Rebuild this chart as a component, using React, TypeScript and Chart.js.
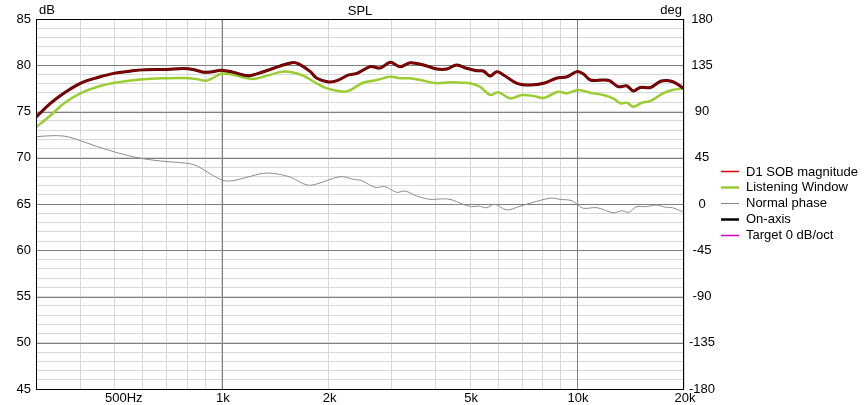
import React, { useEffect, useRef } from "react";
import { Chart, registerables } from "chart.js";

Chart.register(...registerables);

// ---- data ----
const magFreqs = [
  300, 330, 360, 400, 450, 500, 550, 600, 700, 780, 830, 890, 940, 1000, 1080, 1190, 1310, 1460, 1577, 1646,
  1775, 1853, 2000, 2110, 2276, 2402, 2619, 2795, 2979, 3178, 3391, 3697, 4031, 4300, 4583, 4889, 5216, 5446,
  5690, 5944, 6210, 6773, 7400, 8060, 8740, 9375, 9990, 10430, 10900, 11860, 12380, 13060, 13820, 14400, 15060,
  16100, 17270, 18550, 19830, 20000,
];
const onAxisDb = [
  74.4, 75.9, 77.0, 78.05, 78.7, 79.15, 79.35, 79.5, 79.55, 79.65, 79.55, 79.25, 79.3, 79.47, 79.23, 78.87, 79.3,
  79.92, 80.28, 80.14, 79.31, 78.59, 78.19, 78.33, 78.95, 79.13, 79.85, 79.7, 80.32, 79.85, 80.28, 80.03, 79.6,
  79.6, 80.03, 79.67, 79.41, 79.38, 78.84, 79.31, 78.95, 78.05, 77.86, 78.05, 78.59, 78.76, 79.31, 79.05, 78.4,
  78.4, 78.3, 77.68, 77.76, 77.22, 77.6, 77.6, 78.3, 78.24, 77.57, 77.5,
];
const d1SobDb = onAxisDb.slice();

const lwFreqs = [
  300, 330, 360, 400, 450, 500, 600, 700, 780, 850, 900, 940, 1000, 1080, 1220, 1310, 1480, 1577, 1700, 1850,
  1977, 2200, 2300, 2500, 2730, 2980, 3180, 3390, 3620, 4030, 4390, 4700, 5000, 5330, 5690, 6000, 6480, 7000,
  7550, 8060, 8830, 9375, 10060, 10900, 11860, 12640, 13240, 13820, 14400, 15220, 16100, 17440, 18550, 20000,
];
const listeningWindowDb = [
  73.3, 74.6, 75.9, 76.97, 77.7, 78.1, 78.48, 78.6, 78.62, 78.5, 78.33, 78.59, 79.1, 78.95, 78.51, 78.76, 79.31,
  79.24, 78.84, 78.05, 77.5, 77.14, 77.32, 78.11, 78.4, 78.76, 78.59, 78.59, 78.4, 78.05, 78.15, 78.11, 78.05,
  77.68, 76.78, 77.07, 76.42, 76.78, 76.68, 76.46, 77.14, 76.97, 77.32, 77.03, 76.78, 76.42, 75.88, 75.95, 75.52,
  75.95, 76.14, 76.97, 77.32, 77.5,
];

const phaseFreqs = [
  300, 337, 368, 400, 447, 503, 591, 702, 799, 853, 930, 1003, 1058, 1178, 1312, 1431, 1560, 1737, 1853, 2019,
  2178, 2349, 2480, 2700, 2881, 3107, 3280, 3537, 3860, 4118, 4390, 4783, 5048, 5270, 5562, 5870, 6342, 6840,
  7470, 8405, 8970, 9675, 10060, 10430, 11380, 12640, 13380, 13980, 14720, 15670, 16700, 17820, 18550, 19830,
];
const normalPhaseDeg = [
  65.5, 66.5, 65.5, 61.6, 55.8, 50.3, 44.5, 41.2, 39.6, 37, 29.2, 23.3, 22.4, 26, 29.9, 29.2, 26, 18.5, 19.5, 24,
  26.6, 24, 22.7, 16.2, 16.8, 11.4, 12.6, 7.8, 4.5, 4.9, 4.5, -0.3, -2.6, -2, -3.6, -0.3, -5.8, -2.6, 1.3, 5.6,
  4.5, 3.2, -1, -4.2, -3.6, -8.5, -6.5, -8.1, -2.6, -2.6, -1, -3.2, -3.6, -7.5,
];

const targetFreqs: number[] = [];
const targetDb: number[] = [];

const xGridFreqs = [400, 500, 600, 700, 800, 900, 1000, 2000, 3000, 4000, 5000, 6000, 7000, 8000, 9000, 10000, 20000];
const xMajorFreqs = [1000, 10000];
const xLabelFreqs = [500, 1000, 2000, 5000, 10000, 20000];
const xLabelNumbers = ["500", "1k", "2k", "5k", "10k", "20k"];
const xLabelSuffix = ["Hz", "", "", "", "", ""];
const yMajorDb = [50, 55, 60, 65, 70, 75, 80];

const seriesNames = ["D1 SOB magnitude", "Listening Window", "Normal phase", "On-axis", "Target 0 dB/oct"];

const FONT_FAMILY = "'Liberation Sans', Arial, sans-serif";
const FONT = `13px ${FONT_FAMILY}`;
const MINOR = "#d8d8d8";
const MAJOR = "#808080";

function pts(xs: number[], ys: number[]) {
  return xs.map((x, i) => ({ x, y: ys[i] }));
}

const legendStyles = [
  { color: "#e00000", width: 1.5 },
  { color: "#9acd32", width: 2.5 },
  { color: "#888888", width: 1 },
  { color: "#000000", width: 2.5 },
  { color: "#d000d0", width: 1.5 },
];

const majorGridPlugin = {
  id: "majorGrid",
  beforeDatasetsDraw(chart: any) {
    const { ctx, chartArea } = chart;
    const xs = chart.scales.x;
    const ys = chart.scales.y;
    ctx.save();
    ctx.strokeStyle = MAJOR;
    ctx.lineWidth = 1;
    ctx.beginPath();
    yMajorDb.forEach((v) => {
      const py = Math.round(ys.getPixelForValue(v)) + 0.5;
      ctx.moveTo(chartArea.left, py);
      ctx.lineTo(chartArea.right, py);
    });
    xMajorFreqs.forEach((f) => {
      const px = Math.round(xs.getPixelForValue(f)) + 0.5;
      ctx.moveTo(px, chartArea.top);
      ctx.lineTo(px, chartArea.bottom);
    });
    ctx.stroke();
    ctx.restore();
  },
};

const decorPlugin = {
  id: "decor",
  afterDraw(chart: any) {
    const { ctx, chartArea } = chart;
    const xs = chart.scales.x;
    ctx.save();
    // frame
    ctx.strokeStyle = "#000";
    ctx.lineWidth = 1;
    ctx.strokeRect(chartArea.left + 0.5, chartArea.top + 0.5, chartArea.right - chartArea.left - 1, chartArea.bottom - chartArea.top);
    // x labels
    ctx.font = FONT;
    ctx.fillStyle = "#000";
    ctx.textBaseline = "middle";
    ctx.textAlign = "left";
    xLabelFreqs.forEach((f, i) => {
      const px = xs.getPixelForValue(f);
      const w = ctx.measureText(xLabelNumbers[i]).width;
      ctx.fillText(xLabelNumbers[i] + xLabelSuffix[i], px - w / 2 + 1, chartArea.bottom + 9);
    });
    // titles
    ctx.textBaseline = "alphabetic";
    ctx.textAlign = "left";
    ctx.fillText("dB", chartArea.left + 3, 14);
    ctx.textAlign = "center";
    ctx.fillText("SPL", (chartArea.left + chartArea.right) / 2, 15);
    ctx.textAlign = "right";
    ctx.fillText("deg", chartArea.right - 2, 14);
    // legend
    ctx.textAlign = "left";
    ctx.textBaseline = "middle";
    seriesNames.forEach((name, i) => {
      const y = 171 + i * 15.9;
      const st = legendStyles[i];
      ctx.strokeStyle = st.color;
      ctx.lineWidth = st.width;
      ctx.beginPath();
      ctx.moveTo(721, Math.round(y) + 0.5);
      ctx.lineTo(739, Math.round(y) + 0.5);
      ctx.stroke();
      ctx.fillText(name, 746, y + 1);
    });
    ctx.restore();
  },
};

export default function App() {
  const ref = useRef<HTMLCanvasElement | null>(null);
  useEffect(() => {
    document.body.style.margin = "0";
    if (!ref.current) return;
    const chart = new Chart(ref.current, {
      type: "line",
      data: {
        datasets: [
          {
            label: seriesNames[0],
            data: pts(magFreqs, d1SobDb),
            borderColor: "rgba(200,0,0,0.55)",
            borderWidth: 2,
            pointRadius: 0,
            tension: 0.35,
            yAxisID: "y",
            order: 0,
          },
          {
            label: seriesNames[1],
            data: pts(lwFreqs, listeningWindowDb),
            borderColor: "#9acd32",
            borderWidth: 2.5,
            pointRadius: 0,
            tension: 0.35,
            yAxisID: "y",
            order: 2,
          },
          {
            label: seriesNames[2],
            data: pts(phaseFreqs, normalPhaseDeg),
            borderColor: "#8c8c8c",
            borderWidth: 1,
            pointRadius: 0,
            tension: 0.35,
            yAxisID: "y2",
            order: 3,
          },
          {
            label: seriesNames[3],
            data: pts(magFreqs, onAxisDb),
            borderColor: "#3a0000",
            borderWidth: 3,
            pointRadius: 0,
            tension: 0.35,
            yAxisID: "y",
            order: 1,
          },
          {
            label: seriesNames[4],
            data: pts(targetFreqs, targetDb),
            borderColor: "#cc00cc",
            borderWidth: 1,
            pointRadius: 0,
            yAxisID: "y",
            order: 4,
          },
        ],
      },
      options: {
        animation: false,
        responsive: false,
        maintainAspectRatio: false,
        layout: { padding: { top: 19, right: 150, left: 0, bottom: 0 } },
        plugins: { legend: { display: false }, tooltip: { enabled: false } },
        scales: {
          x: {
            type: "logarithmic",
            min: 300,
            max: 20000,
            afterBuildTicks: (s: any) => {
              s.ticks = xGridFreqs.map((v) => ({ value: v }));
            },
            afterFit: (s: any) => {
              s.height = 16;
            },
            ticks: { display: false },
            border: { display: false },
            grid: {
              drawTicks: false,
              color: MINOR,
            },
          },
          y: {
            position: "left",
            min: 45,
            max: 85,
            afterFit: (s: any) => {
              s.width = 36;
            },
            border: { display: false },
            ticks: {
              stepSize: 1,
              autoSkip: false,
              padding: 5,
              color: "#000",
              font: { size: 13, family: FONT_FAMILY },
              callback: (v: any) => (Number(v) % 5 === 0 ? String(v) : ""),
            },
            grid: {
              drawTicks: false,
              color: MINOR,
            },
          },
          y2: {
            position: "right",
            min: -180,
            max: 180,
            afterFit: (s: any) => {
              s.width = 34;
            },
            border: { display: false },
            ticks: {
              stepSize: 45,
              padding: 5,
              crossAlign: "center",
              color: "#000",
              font: { size: 13, family: FONT_FAMILY },
            },
            grid: { display: false, drawTicks: false },
          },
        },
      },
      plugins: [majorGridPlugin, decorPlugin],
    } as any);
    return () => chart.destroy();
  }, []);
  return (
    <div style={{ position: "fixed", left: 0, top: 0, width: 868, height: 405, background: "#fff" }}>
      <canvas ref={ref} width={868} height={405} style={{ display: "block", width: 868, height: 405 }} />
    </div>
  );
}
